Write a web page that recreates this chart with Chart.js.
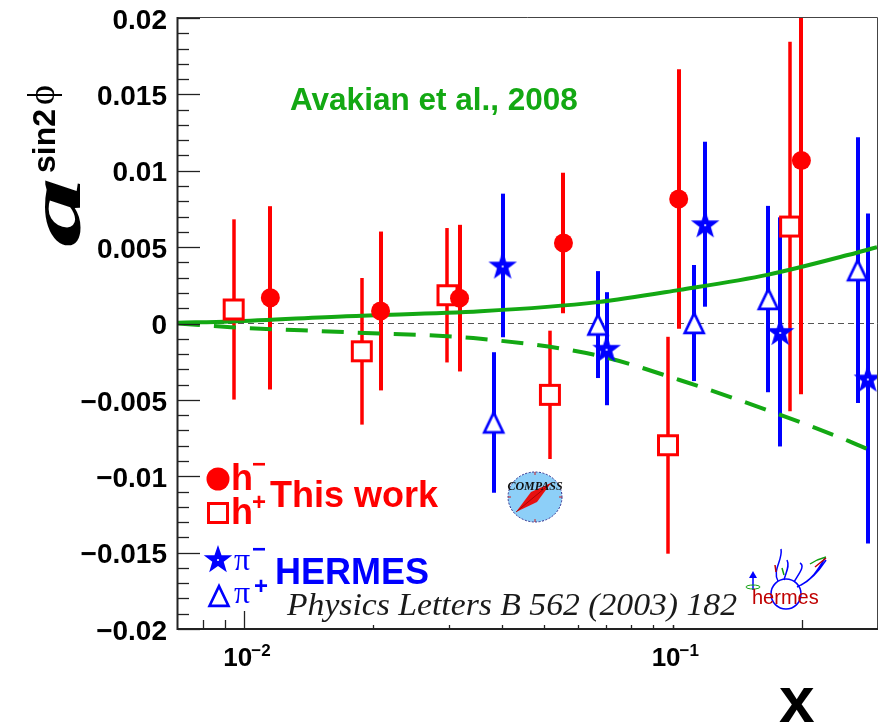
<!DOCTYPE html>
<html>
<head>
<meta charset="utf-8">
<script src="https://cdn.jsdelivr.net/npm/chart.js@4.4.0/dist/chart.umd.min.js"></script>
<style>
  html, body { margin: 0; padding: 0; background: #fff; overflow: hidden; }
  canvas { display: block; }
</style>
</head>
<body>
<canvas id="chart" width="887" height="726"></canvas>
<script>
// values
const hMinusX = [0.0115, 0.0208, 0.0318, 0.0556, 0.1033, 0.1998];
const hMinusY = [0.00168, 0.00082, 0.00166, 0.00527, 0.00815, 0.01067];
const hMinusErr = [0.0060, 0.0052, 0.0048, 0.0046, 0.0085, 0.0153];

const hPlusX = [0.00944, 0.0188, 0.0298, 0.0517, 0.0975, 0.188];
const hPlusY = [0.00092, -0.00182, 0.00185, -0.00467, -0.00797, 0.00635];
const hPlusErr = [0.0059, 0.0048, 0.0044, 0.0042, 0.0071, 0.0121];

const piMinusX = [0.0401, 0.0701, 0.1191, 0.1783, 0.2856];
const piMinusY = [0.0038, -0.00165, 0.0065, -0.00055, -0.0036];
const piMinusErr = [0.0047, 0.0037, 0.0054, 0.0075, 0.0108];

const piPlusX = [0.0382, 0.0669, 0.1123, 0.1673, 0.2703];
const piPlusY = [-0.00648, -0.00007, 0.00003, 0.0016, 0.00349];
const piPlusErr = [0.0046, 0.0035, 0.0038, 0.0061, 0.0087];

// Avakian et al. curves
const theoryX = [0.007, 0.0093, 0.0173, 0.0356, 0.0669, 0.1038, 0.1673, 0.258, 0.3];
const theorySolid = [0.00005, 0.00013, 0.00048, 0.0008, 0.0014, 0.0022, 0.0032, 0.0045, 0.0050];
const theoryDashed = [0.0, -0.00024, -0.00057, -0.0010, -0.0021, -0.0037, -0.0057, -0.0077, -0.0085];

const yTicks = [0.02, 0.015, 0.01, 0.005, 0, -0.005, -0.01, -0.015, -0.02];
const yTickLabels = ['0.02', '0.015', '0.01', '0.005', '0', '\u22120.005', '\u22120.01', '\u22120.015', '\u22120.02'];
const xTicks = [0.01, 0.1];
const xTickExps = ['\u22122', '\u22121'];
const xMidTicks = [0.008, 0.009, 0.2];
const xSmallTicks = [0.02, 0.03, 0.04, 0.05, 0.06, 0.07, 0.08, 0.09, 0.1];

const RED = '#ff0000';
const BLUE = '#0000ff';
const GREEN = '#13a813';
const SANS = '"Liberation Sans", Arial, Helvetica, sans-serif';
const SERIF = '"Liberation Serif", "DejaVu Serif", "Times New Roman", serif';

function pts(xs, ys) {
    return xs.map((x, i) => ({ x: x, y: ys[i] }));
}

// marker images
function starImg(size) {
    const c = document.createElement('canvas');
    c.width = c.height = size;
    const g = c.getContext('2d');
    const m = size / 2, R = size / 2 - 1, r = R * 0.4;
    g.beginPath();
    for (let i = 0; i < 10; i++) {
        const rad = i % 2 ? r : R;
        const a = -Math.PI / 2 + i * Math.PI / 5;
        g.lineTo(m + rad * Math.cos(a), m + 1 + rad * Math.sin(a));
    }
    g.closePath();
    g.fillStyle = BLUE;
    g.fill();
    g.fillStyle = '#fff';
    g.beginPath();
    g.arc(m, m + 1, 1.1, 0, Math.PI * 2);
    g.fill();
    return c;
}
function squareImg(side) {
    const c = document.createElement('canvas');
    c.width = c.height = side + 4;
    const g = c.getContext('2d');
    g.fillStyle = '#fff';
    g.strokeStyle = RED;
    g.lineWidth = 3;
    g.fillRect(3.5, 3.5, side - 3, side - 3);
    g.strokeRect(3.5, 3.5, side - 3, side - 3);
    return c;
}
function triImg(w) {
    const c = document.createElement('canvas');
    c.width = c.height = w + 4;
    const g = c.getContext('2d');
    const m = (w + 4) / 2;
    const h = w * 0.9;
    g.beginPath();
    g.moveTo(m, m - h / 2);
    g.lineTo(m + w / 2 - 1.5, m + h / 2);
    g.lineTo(m - w / 2 + 1.5, m + h / 2);
    g.closePath();
    g.fillStyle = '#fff';
    g.fill();
    g.strokeStyle = BLUE;
    g.lineWidth = 2.6;
    g.stroke();
    return c;
}

const STAR = starImg(32);
const SQUARE = squareImg(22);
const TRI = triImg(22);

const seriesErr = [
    { xs: hMinusX, ys: hMinusY, es: hMinusErr, color: RED, w: 4 },
    { xs: hPlusX, ys: hPlusY, es: hPlusErr, color: RED, w: 3.5 },
    { xs: piMinusX, ys: piMinusY, es: piMinusErr, color: BLUE, w: 4 },
    { xs: piPlusX, ys: piPlusY, es: piPlusErr, color: BLUE, w: 4 }
];

function drawCompass(ctx) {
    const cx = 535, cy = 497;
    ctx.save();
    ctx.beginPath();
    ctx.ellipse(cx, cy, 27, 25, 0, 0, Math.PI * 2);
    ctx.fillStyle = '#8dcff8';
    ctx.fill();
    ctx.setLineDash([2, 1.5]);
    ctx.strokeStyle = '#2b2b8c';
    ctx.lineWidth = 1;
    ctx.stroke();
    ctx.setLineDash([]);
    ctx.strokeStyle = '#d02020';
    [[cx, cy - 25, cx, cy - 22], [cx, cy + 25, cx, cy + 22], [cx - 27, cy, cx - 24, cy], [cx + 27, cy, cx + 24, cy]].forEach(l => {
        ctx.beginPath(); ctx.moveTo(l[0], l[1]); ctx.lineTo(l[2], l[3]); ctx.stroke();
    });
    // needle
    ctx.beginPath();
    ctx.moveTo(516, 512);
    ctx.lineTo(531, 492);
    ctx.lineTo(551, 483);
    ctx.lineTo(537, 502);
    ctx.closePath();
    ctx.fillStyle = '#e81010';
    ctx.fill();
    ctx.strokeStyle = '#900';
    ctx.lineWidth = 0.8;
    ctx.beginPath();
    ctx.moveTo(516, 512);
    ctx.lineTo(551, 483);
    ctx.stroke();
    ctx.fillStyle = '#111';
    ctx.font = 'bold italic 12px ' + SERIF;
    ctx.textAlign = 'center';
    ctx.fillText('COMPASS', cx, 490);
    ctx.restore();
}

function drawHermes(ctx) {
    ctx.save();
    ctx.lineWidth = 1.5;
    ctx.strokeStyle = BLUE;
    ctx.beginPath();
    ctx.arc(786, 594, 15, 0, Math.PI * 2);
    ctx.stroke();
    // wings
    ctx.beginPath();
    ctx.moveTo(778, 581);
    ctx.bezierCurveTo(772, 570, 783, 560, 781, 549);
    ctx.moveTo(784, 580);
    ctx.bezierCurveTo(786, 572, 790, 566, 787, 560);
    ctx.moveTo(794, 582);
    ctx.bezierCurveTo(800, 572, 805, 566, 800, 563);
    ctx.moveTo(797, 587);
    ctx.bezierCurveTo(812, 580, 818, 570, 825, 558);
    ctx.moveTo(801, 585);
    ctx.bezierCurveTo(815, 578, 822, 566, 826, 560);
    ctx.stroke();
    ctx.strokeStyle = '#10a010';
    ctx.beginPath();
    ctx.moveTo(810, 564); ctx.bezierCurveTo(816, 560, 822, 558, 826, 557);
    ctx.moveTo(782, 568); ctx.lineTo(784, 575);
    ctx.stroke();
    ctx.strokeStyle = '#c00000';
    ctx.beginPath();
    ctx.moveTo(815, 567); ctx.lineTo(826, 558);
    ctx.moveTo(775, 565); ctx.lineTo(776, 572);
    ctx.stroke();
    // arrow
    ctx.strokeStyle = BLUE;
    ctx.beginPath();
    ctx.moveTo(753, 590); ctx.lineTo(753, 576);
    ctx.stroke();
    ctx.fillStyle = BLUE;
    ctx.beginPath();
    ctx.moveTo(749, 578); ctx.lineTo(757, 578); ctx.lineTo(753, 571);
    ctx.closePath(); ctx.fill();
    ctx.strokeStyle = '#10a010';
    ctx.lineWidth = 1;
    ctx.beginPath();
    ctx.ellipse(753, 587, 7, 2, 0, 0, Math.PI * 2);
    ctx.stroke();
    ctx.fillStyle = '#c00000';
    ctx.font = '20px ' + SANS;
    ctx.fillText('hermes', 752, 604);
    ctx.restore();
}

const rootPlugin = {
    id: 'rootStyle',
    beforeDatasetsDraw(chart) {
        const { ctx, chartArea: a, scales: { x, y } } = chart;
        ctx.save();
        ctx.beginPath();
        ctx.rect(a.left, a.top, a.right - a.left, a.bottom - a.top);
        ctx.clip();
        // zero line
        ctx.strokeStyle = '#555';
        ctx.lineWidth = 1;
        ctx.setLineDash([6, 4]);
        ctx.beginPath();
        ctx.moveTo(a.left, y.getPixelForValue(0));
        ctx.lineTo(a.right, y.getPixelForValue(0));
        ctx.stroke();
        ctx.setLineDash([]);
        // error bars
        seriesErr.forEach(s => {
            ctx.strokeStyle = s.color;
            ctx.lineWidth = s.w;
            s.xs.forEach((xv, i) => {
                const px = Math.round(x.getPixelForValue(xv));
                ctx.beginPath();
                ctx.moveTo(px, y.getPixelForValue(s.ys[i] + s.es[i]));
                ctx.lineTo(px, y.getPixelForValue(s.ys[i] - s.es[i]));
                ctx.stroke();
            });
        });
        ctx.restore();
    },
    afterDatasetsDraw(chart) {
        const { ctx, chartArea: a, scales: { x, y } } = chart;
        ctx.save();
        // frame
        ctx.strokeStyle = '#444';
        ctx.lineWidth = 1;
        ctx.beginPath();
        ctx.moveTo(a.left, a.top - 0.5);
        ctx.lineTo(a.right + 0.5, a.top - 0.5);
        ctx.lineTo(a.right + 0.5, a.bottom);
        ctx.stroke();
        ctx.strokeStyle = '#222';
        ctx.lineWidth = 2;
        ctx.beginPath();
        ctx.moveTo(a.left - 0.5, a.top - 1);
        ctx.lineTo(a.left - 0.5, a.bottom);
        ctx.lineTo(a.right + 1, a.bottom);
        ctx.stroke();
        // y ticks
        ctx.lineWidth = 1.3;
        ctx.strokeStyle = '#222';
        for (let k = -20; k <= 20; k++) {
            const py = Math.round(y.getPixelForValue(k / 1000)) + 0.5;
            const len = k % 5 === 0 ? 22 : 11;
            ctx.beginPath();
            ctx.moveTo(a.left, py);
            ctx.lineTo(a.left + len, py);
            ctx.stroke();
        }
        // x ticks
        const xt = (v, len) => {
            const px = Math.round(x.getPixelForValue(v)) + 0.5;
            ctx.beginPath();
            ctx.moveTo(px, a.bottom);
            ctx.lineTo(px, a.bottom - len);
            ctx.stroke();
        };
        xTicks.forEach(v => xt(v, v === 0.01 ? 18 : 4));
        xMidTicks.forEach(v => xt(v, 9));
        xSmallTicks.forEach(v => xt(v, 4));

        // y labels
        ctx.fillStyle = '#000';
        ctx.font = 'bold 28px ' + SANS;
        ctx.textAlign = 'right';
        ctx.textBaseline = 'middle';
        yTicks.forEach((v, i) => {
            ctx.fillText(yTickLabels[i], 167, y.getPixelForValue(v) + 3);
        });
        // x labels
        ctx.textAlign = 'left';
        ctx.textBaseline = 'alphabetic';
        xTicks.forEach((v, i) => {
            const px = x.getPixelForValue(v);
            ctx.font = 'bold 26px ' + SANS;
            ctx.fillText('10', px - 21, 666);
            const w = ctx.measureText('10').width;
            ctx.font = 'bold 17px ' + SANS;
            ctx.fillText(xTickExps[i], px - 21 + w - 1, 656);
        });
        // axis titles
        ctx.font = 'bold 64px ' + SANS;
        ctx.fillText('x', 779, 722);
        ctx.save();
        ctx.translate(80, 247);
        ctx.rotate(-Math.PI / 2);
        ctx.font = 'bold italic 80px ' + SERIF;
        const m = ctx.measureText('a');
        const aw = m.actualBoundingBoxLeft + m.actualBoundingBoxRight;
        const ah = m.actualBoundingBoxAscent;
        ctx.save();
        ctx.scale(68 / aw, 35 / ah);
        ctx.fillText('a', m.actualBoundingBoxLeft, 0);
        ctx.restore();
        ctx.font = 'bold 32px ' + SANS;
        ctx.fillText('sin2', 74, -25);
        ctx.font = '38px ' + SERIF;
        ctx.fillText('\u03d5', 142, -26);
        ctx.restore();

        // annotation text
        ctx.fillStyle = GREEN;
        ctx.font = 'bold 31.5px ' + SANS;
        ctx.fillText('Avakian et al., 2008', 290, 110);

        // legend
        ctx.fillStyle = RED;
        ctx.beginPath();
        ctx.arc(218, 479, 11.5, 0, Math.PI * 2);
        ctx.fill();
        ctx.font = 'bold 36px ' + SANS;
        ctx.fillText('h', 231, 490);
        ctx.fillText('h', 231, 524);
        ctx.font = 'bold 24px ' + SANS;
        ctx.fillText('\u2212', 252, 472);
        ctx.fillText('+', 252, 510);
        ctx.drawImage(SQUARE, 218 - SQUARE.width / 2, 513 - SQUARE.height / 2);
        ctx.font = 'bold 36px ' + SANS;
        ctx.fillText('This work', 270, 507);

        ctx.fillStyle = BLUE;
        ctx.drawImage(STAR, 218 - STAR.width / 2, 559 - STAR.height / 2);
        ctx.drawImage(TRI, 219 - TRI.width / 2, 596 - TRI.height / 2);
        ctx.font = '32px ' + SERIF;
        ctx.fillText('\u03c0', 234, 570);
        ctx.fillText('\u03c0', 234, 603);
        ctx.font = 'bold 24px ' + SANS;
        ctx.fillText('\u2212', 252, 557);
        ctx.fillText('+', 254, 594);
        ctx.font = 'bold 36px ' + SANS;
        ctx.fillText('HERMES', 275, 584);

        // reference
        ctx.fillStyle = '#1a1a1a';
        ctx.font = 'italic 31px ' + SERIF;
        const ref = 'Physics Letters B 562 (2003) 182';
        const rw = ctx.measureText(ref).width;
        ctx.save();
        ctx.translate(287, 615);
        ctx.scale(450 / rw, 1);
        ctx.fillText(ref, 0, 0);
        ctx.restore();

        drawCompass(ctx);
        drawHermes(ctx);
        ctx.restore();
    }
};

new Chart(document.getElementById('chart'), {
    type: 'scatter',
    data: {
        datasets: [
            {
                label: 'h-', data: pts(hMinusX, hMinusY), order: 0, clip: 0,
                pointStyle: 'circle', pointRadius: 9.5, pointBackgroundColor: RED, pointBorderWidth: 0
            },
            {
                label: 'h+', data: pts(hPlusX, hPlusY), order: 1, clip: 0,
                pointStyle: SQUARE, pointRadius: 11
            },
            {
                label: 'pi-', data: pts(piMinusX, piMinusY), order: 2, clip: 0,
                pointStyle: STAR, pointRadius: 16
            },
            {
                label: 'pi+', data: pts(piPlusX, piPlusY), order: 3, clip: 0,
                pointStyle: TRI, pointRadius: 12
            },
            {
                label: 'Avakian solid', data: pts(theoryX, theorySolid), order: 10, clip: 0,
                showLine: true, borderColor: GREEN, borderWidth: 4, pointRadius: 0,
                cubicInterpolationMode: 'monotone', fill: false
            },
            {
                label: 'Avakian dashed', data: pts(theoryX, theoryDashed), order: 11, clip: 0,
                showLine: true, borderColor: GREEN, borderWidth: 4, pointRadius: 0,
                borderDash: [22, 14], cubicInterpolationMode: 'monotone', fill: false
            }
        ]
    },
    options: {
        responsive: false,
        animation: false,
        devicePixelRatio: 1,
        layout: { autoPadding: false, padding: { left: 178, right: 10, top: 18, bottom: 97 } },
        plugins: { legend: { display: false }, tooltip: { enabled: false } },
        scales: {
            x: { type: 'logarithmic', min: 0.007, max: 0.3, display: false },
            y: { type: 'linear', min: -0.02, max: 0.02, display: false }
        }
    },
    plugins: [rootPlugin]
});
</script>
</body>
</html>
